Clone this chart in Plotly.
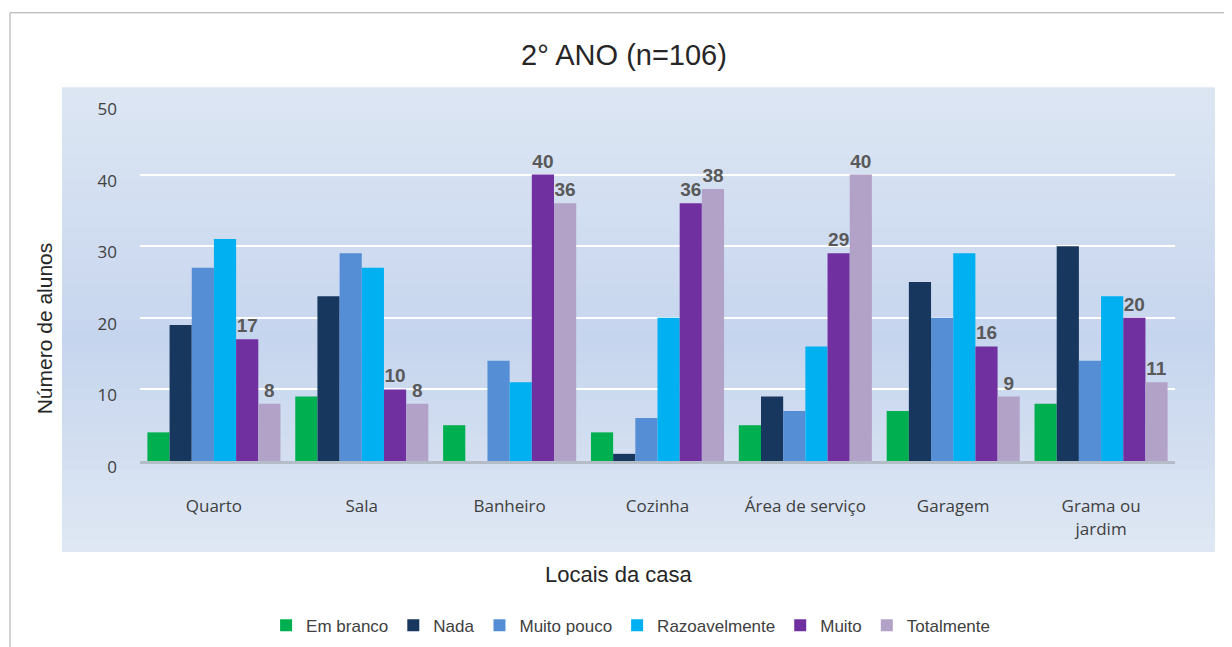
import plotly.graph_objects as go

# ------------------------------------------------------------
# Data
# ------------------------------------------------------------
categories = ["Quarto", "Sala", "Banheiro", "Cozinha", "Área de serviço",
              "Garagem", "Grama ou<br>jardim"]

em_branco = [4, 9, 5, 4, 5, 7, 8]
nada = [19, 23, 0, 1, 9, 25, 30]
muito_pouco = [27, 29, 14, 6, 7, 20, 14]
razoavelmente = [31, 27, 11, 20, 16, 29, 23]
muito = [17, 10, 40, 36, 29, 16, 20]
totalmente = [8, 8, 36, 38, 40, 9, 11]

series_names = ["Em branco", "Nada", "Muito pouco", "Razoavelmente", "Muito", "Totalmente"]
series_values = [em_branco, nada, muito_pouco, razoavelmente, muito, totalmente]
series_colors = ["#00b050", "#17375e", "#558ed5", "#00b0f0", "#7030a0", "#b3a2c7"]
labelled = ["Muito", "Totalmente"]  # only these series show values

y_ticks = [0, 10, 20, 30, 40, 50]

ARIAL = "Liberation Sans, Arial"
CALIBRI = "Open Sans, Noto Sans"

# ------------------------------------------------------------
# Build figure
# ------------------------------------------------------------
fig = go.Figure()

for name, vals, col in zip(series_names, series_values, series_colors):
    show = name in labelled
    fig.add_trace(go.Bar(
        name=name,
        x=categories,
        y=vals,
        marker=dict(color=col, line=dict(width=0)),
        text=[str(v) for v in vals] if show else None,
        textposition="outside" if show else "none",
        textfont=dict(family=ARIAL, size=19, color="#595959"),
        texttemplate="<b>%{text}</b>" if show else None,
        cliponaxis=False,
    ))

# background gradient (plot area panel), drawn as thin bands
panel_x0, panel_x1 = -0.0754, 1.0386
panel_y0, panel_y1 = -0.252, 1.0443
top_rgb = (220, 230, 243)
mid_rgb = (198, 213, 238)
bot_rgb = (222, 231, 243)
n_bands = 40
shapes = []
for i in range(n_bands):
    t = i / (n_bands - 1)
    if t < 0.55:
        k = t / 0.55
        a, b = top_rgb, mid_rgb
    else:
        k = (t - 0.55) / 0.45
        a, b = mid_rgb, bot_rgb
    c = tuple(round(a[j] + (b[j] - a[j]) * k) for j in range(3))
    y_hi = panel_y1 - (panel_y1 - panel_y0) * i / n_bands
    y_lo = panel_y1 - (panel_y1 - panel_y0) * (i + 1) / n_bands
    shapes.append(dict(type="rect", xref="paper", yref="paper",
                       x0=panel_x0, x1=panel_x1, y0=y_lo - 0.002, y1=y_hi,
                       fillcolor="rgb(%d,%d,%d)" % c, line=dict(width=0),
                       layer="below"))

# outer chart border
shapes.append(dict(type="rect", xref="paper", yref="paper",
                   x0=-0.1256, x1=1.08, y0=-0.6, y1=1.252,
                   line=dict(color="#a6a6a6", width=1),
                   fillcolor="rgba(0,0,0,0)", layer="below"))

fig.update_layout(
    width=1232,
    height=647,
    margin=dict(l=132, r=65, t=95, b=183),
    paper_bgcolor="white",
    plot_bgcolor="rgba(0,0,0,0)",
    font=dict(family=ARIAL, size=15, color="#404040"),
    title=dict(text="2° ANO (n=106)", x=0.5, xanchor="center",
               y=0.927, yanchor="middle",
               font=dict(family=ARIAL, size=29, color="#262626")),
    barmode="group",
    bargap=0.1,
    bargroupgap=0,
    shapes=shapes,
    showlegend=True,
    legend=dict(orientation="h", x=0.474, xanchor="center", y=-0.46, yanchor="middle",
                font=dict(family=ARIAL, size=17, color="#404040"), bgcolor="rgba(0,0,0,0)",
                itemwidth=30, traceorder="normal"),
    annotations=[
        dict(text="Número de alunos", xref="paper", yref="paper", x=-0.092, y=0.37,
             textangle=-90, showarrow=False, xanchor="center", yanchor="middle",
             font=dict(family=ARIAL, size=21, color="#262626")),
        dict(text="Locais da casa", xref="paper", yref="paper", x=0.463, y=-0.316,
             showarrow=False, xanchor="center", yanchor="middle",
             font=dict(family=ARIAL, size=22, color="#262626")),
    ],
)

fig.update_yaxes(
    range=[0, 50],
    tickvals=y_ticks,
    showgrid=True,
    gridcolor="white",
    gridwidth=2,
    zeroline=False,
    showline=False,
    ticks="",
    ticklabelstandoff=22,
    ticklabelshift=6,
    tickfont=dict(family=CALIBRI, size=17, color="#404040"),
)

fig.update_xaxes(
    showline=True,
    linecolor="#b4bcc8",
    linewidth=3,
    ticks="",
    ticklabelstandoff=28,
    tickfont=dict(family=CALIBRI, size=17, color="#404040"),
)

fig.write_html("out.html")
